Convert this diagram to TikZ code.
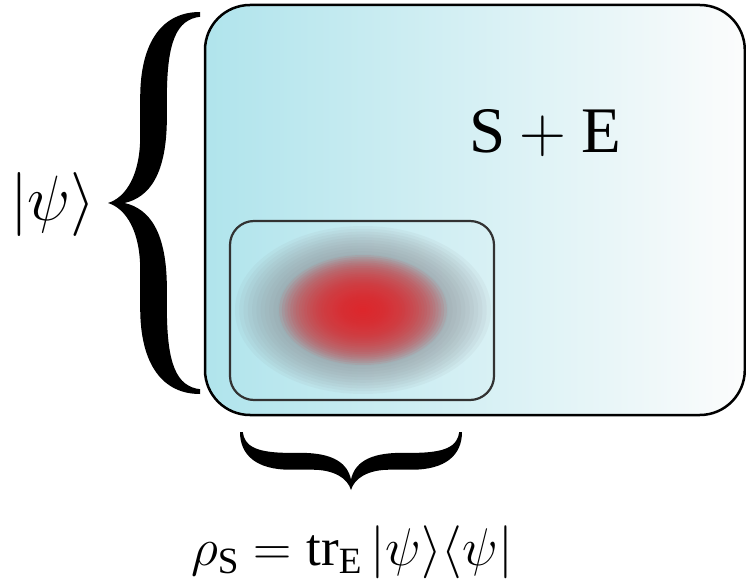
\RequirePackage{fix-cm}
\documentclass[tikz,border=0pt]{standalone}
\usepackage{amsmath}
\usepackage{fontspec}
\setmainfont{Liberation Serif}

\definecolor{boxcyan}{RGB}{176,228,236}
\definecolor{boxmid}{RGB}{208,224,228}
\definecolor{boxwhite}{RGB}{252,252,252}
\definecolor{edgegray}{RGB}{50,50,50}
\definecolor{blobred}{RGB}{235,35,40}
\definecolor{blobgray}{RGB}{140,142,148}

% filled curly brace, tip at origin, arms out to x=1, y=+-1
\newcommand{\curlybrace}{%
  \fill (0,0) .. controls (0.2,0.03) and (0.35,0.15) .. (0.35,0.35)
    -- (0.35,0.55) .. controls (0.35,0.85) and (0.6,1) .. (1,1)
    -- (1,0.975) .. controls (0.75,0.96) and (0.64,0.85) .. (0.64,0.55)
    -- (0.64,0.45) .. controls (0.64,0.15) and (0.45,0.03) .. (0.18,0)
    .. controls (0.45,-0.03) and (0.64,-0.15) .. (0.64,-0.45)
    -- (0.64,-0.55) .. controls (0.64,-0.85) and (0.75,-0.96) .. (1,-0.975)
    -- (1,-1) .. controls (0.6,-1) and (0.35,-0.85) .. (0.35,-0.55)
    -- (0.35,-0.35) .. controls (0.35,-0.15) and (0.2,-0.03) .. (0,0) -- cycle;}

\begin{document}
\begin{tikzpicture}[
    x=1pt, y=1pt,
    outerbox/.style={draw=black, line width=2.5pt, rounded corners=45pt,
      left color=boxcyan, middle color=boxmid, right color=boxwhite},
    innerbox/.style={draw=edgegray, line width=2.2pt, rounded corners=24pt},
    lbl/.style={inner sep=0pt},
]
    \useasboundingbox (0,0) rectangle (746,584);
    % system + environment
    \shade[outerbox] (205,169) rectangle (744.8,579);
    % reduced state: stacked translucent ellipses
    \foreach \i in {0,...,29}
      \fill[blobgray, opacity=0.08] (363,274) ellipse [x radius={128*(1-\i/30)}, y radius={84*(1-\i/30)}];
    \foreach \i in {0,...,29}
      \fill[blobred, opacity=0.08] (363,274) ellipse [x radius={84*(1-\i/30)}, y radius={55*(1-\i/30)}];
    \draw[innerbox] (230,184) rectangle (494,363);
    \node[lbl, font=\fontsize{65}{70}\selectfont] (se) at (545,451) {$\mathrm{S}+\mathrm{E}$};
    % braces
    \begin{scope}[shift={(108,381)}, xscale=92, yscale=191]
      \curlybrace
    \end{scope}
    \begin{scope}[shift={(351,94)}, rotate=90, xscale=58, yscale=111]
      \curlybrace
    \end{scope}
    % labels
    \node[lbl, anchor=east, font=\fontsize{64}{70}\selectfont] (ket) at (96,379) {$|\psi\rangle$};
    \node[lbl, font=\fontsize{53}{58}\selectfont] (rho) at (352,32)
      {$\rho_{\mathrm{S}}=\mathrm{tr}_{\mathrm{E}}\,|\psi\rangle\langle\psi|$};
\end{tikzpicture}
\end{document}
